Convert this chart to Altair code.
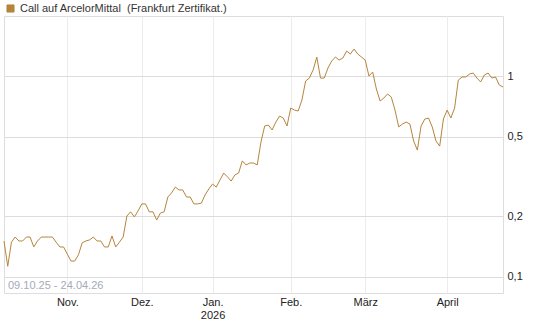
import altair as alt
import pandas as pd

# Trading-day closing values (index 0 = 09.10.25, last = 24.04.26)
prices = [
    0.151, 0.113, 0.149, 0.158, 0.151, 0.151, 0.158, 0.158, 0.141, 0.151,
    0.158, 0.158, 0.158, 0.158, 0.149, 0.141, 0.141, 0.130, 0.120, 0.120,
    0.129, 0.148, 0.151, 0.153, 0.158, 0.151, 0.151, 0.141, 0.141, 0.160,
    0.141, 0.149, 0.158, 0.201, 0.211, 0.199, 0.213, 0.231, 0.231, 0.211,
    0.211, 0.192, 0.208, 0.211, 0.250, 0.262, 0.280, 0.271, 0.271, 0.250,
    0.250, 0.231, 0.231, 0.233, 0.256, 0.274, 0.290, 0.280, 0.304, 0.329,
    0.315, 0.300, 0.322, 0.329, 0.378, 0.361, 0.369, 0.369, 0.361, 0.469,
    0.564, 0.570, 0.539, 0.590, 0.632, 0.618, 0.564, 0.693, 0.677, 0.670,
    0.760, 0.944, 0.977, 1.071, 1.243, 0.977, 0.977, 1.096, 1.188, 1.243,
    1.201, 1.229, 1.332, 1.287, 1.362, 1.287, 1.243, 1.201, 1.000, 1.047,
    0.862, 0.751, 0.777, 0.814, 0.786, 0.677, 0.558, 0.577, 0.590, 0.577,
    0.475, 0.428, 0.564, 0.611, 0.618, 0.558, 0.475, 0.448, 0.611, 0.677,
    0.618, 0.693, 0.955, 0.989, 0.989, 1.023, 1.035, 0.977, 0.934, 1.012,
    1.035, 0.977, 0.989, 0.902, 0.882,
]

# month ticks: trading-day index of first trading day of month
month_tick_index = [17, 37, 56, 77, 97, 119]
month_tick_labels = ["Nov.", "Dez.", "Jan.|2026", "Feb.", "März", "April"]

y_ticks = [0.1, 0.2, 0.5, 1]
series_name = "Call auf ArcelorMittal\u00a0 (Frankfurt Zertifikat.)"
range_text = "09.10.25 - 24.04.26"

df = pd.DataFrame({
    "idx": list(range(len(prices))),
    "value": prices,
    "series": [series_name] * len(prices),
})

# label expression built from the tick arrays
expr = "''"
for i, lab in zip(reversed(month_tick_index), reversed(month_tick_labels)):
    parts = lab.split("|")
    if len(parts) > 1:
        lit = "[" + ",".join("'%s'" % p for p in parts) + "]"
    else:
        lit = "'%s'" % parts[0]
    expr = "datum.value == %d ? %s : (%s)" % (i, lit, expr)

FONT = "Liberation Sans"
W, H = 499, 277

line = alt.Chart(df).mark_line(strokeWidth=1, interpolate="linear").encode(
    x=alt.X(
        "idx:Q",
        scale=alt.Scale(domain=[0, len(prices) - 1], nice=False, zero=False),
        axis=alt.Axis(
            values=month_tick_index,
            labelExpr=expr,
            title=None,
            grid=True,
            gridColor="#ececec",
            gridWidth=1,
            domain=False,
            ticks=False,
            labelPadding=3,
            labelFont=FONT,
            labelFontSize=11,
            labelColor="#222222",
            labelLineHeight=13,
            labelBaseline="top",
        ),
    ),
    y=alt.Y(
        "value:Q",
        scale=alt.Scale(type="log", domain=[0.0832, 1.99], nice=False, zero=False),
        axis=alt.Axis(
            orient="right",
            values=y_ticks,
            labelExpr="replace(toString(datum.value), '.', ',')",
            title=None,
            grid=True,
            gridColor="#dcdcdc",
            gridWidth=1,
            domain=False,
            ticks=False,
            labelPadding=4,
            labelFont=FONT,
            labelFontSize=11,
            labelColor="#222222",
        ),
    ),
    color=alt.Color(
        "series:N",
        scale=alt.Scale(range=["#b5853d"]),
        legend=alt.Legend(
            orient="none",
            legendX=1,
            legendY=-13,
            title=None,
            symbolType="square",
            symbolSize=50,
            symbolFillColor="#b5853d",
            symbolStrokeColor="#5a4020",
            symbolStrokeWidth=1,
            labelFont=FONT,
            labelFontSize=11,
            labelColor="#333333",
            labelOffset=4,
            padding=0,
            labelLimit=400,
        ),
    ),
)

range_label = alt.Chart(pd.DataFrame({"t": [range_text]})).mark_text(
    align="left", baseline="bottom", font=FONT, fontSize=11, color="#a3abb8"
).encode(
    text="t:N",
    x=alt.value(4),
    y=alt.value(H - 2),
)

chart = alt.layer(line, range_label).properties(
    width=W,
    height=H,
    autosize=alt.AutoSizeParams(type="none"),
    padding={"left": 4, "top": 16, "right": 545 - 4 - W, "bottom": 327 - 16 - H},
).configure_view(
    stroke="#d6d6d6",
    strokeWidth=1,
).configure(background="white")

chart.save("out.html", embed_options={"renderer": "svg", "actions": False})
